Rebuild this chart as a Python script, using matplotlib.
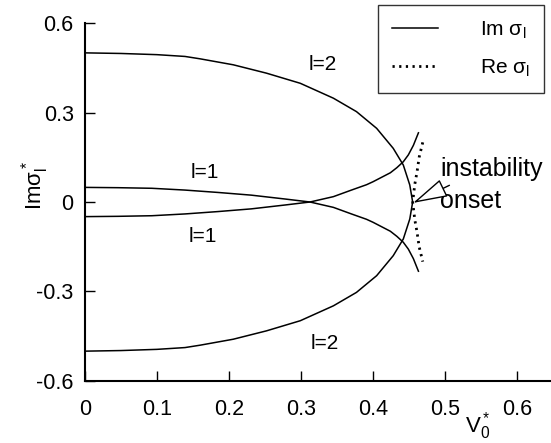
import matplotlib
matplotlib.use("Agg")
import matplotlib.pyplot as plt
import numpy as np

plt.rcParams['font.family'] = ['Liberation Sans', 'DejaVu Sans']
plt.rcParams['mathtext.fontset'] = 'custom'
plt.rcParams['mathtext.rm'] = 'Liberation Sans'
plt.rcParams['mathtext.it'] = 'Liberation Sans:italic'

# l=2 branch (upper half, lower half is the mirror)
v_l2 = [0.0, 0.05, 0.10, 0.139, 0.160, 0.206, 0.252, 0.299, 0.345, 0.377, 0.405, 0.428, 0.442, 0.451, 0.455]
im_l2 = [0.50, 0.498, 0.494, 0.488, 0.480, 0.460, 0.432, 0.398, 0.348, 0.303, 0.247, 0.180, 0.124, 0.057, 0.0]

# l=1 branch starting at +0.05 (the other one is the mirror)
v_l1 = [0.0, 0.046, 0.093, 0.139, 0.185, 0.231, 0.278, 0.3125, 0.345, 0.370, 0.391, 0.400,
        0.424, 0.433, 0.442, 0.449, 0.456, 0.463]
im_l1 = [0.049, 0.048, 0.046, 0.040, 0.032, 0.023, 0.010, 0.0, -0.018, -0.040, -0.058, -0.068,
         -0.098, -0.115, -0.135, -0.158, -0.19, -0.232]

# Re sigma near the instability onset
re_y = [0.0, 0.03, 0.06, 0.10, 0.15, 0.20]
re_v = [0.455, 0.4565, 0.458, 0.461, 0.464, 0.469]

fig = plt.figure(figsize=(5.51, 4.43), dpi=100)
ax = fig.add_axes([0.154, 0.140, 0.846, 0.808])

v_l2 = np.array(v_l2); im_l2 = np.array(im_l2)
v_l1 = np.array(v_l1); im_l1 = np.array(im_l1)
re_y = np.array(re_y); re_v = np.array(re_v)

ax.plot(v_l2, im_l2, color='black', lw=1.1, label=r'Im σ$_\mathrm{l}$')
ax.plot(v_l2, -im_l2, color='black', lw=1.1)
ax.plot(v_l1, im_l1, color='black', lw=1.1)
ax.plot(v_l1, -im_l1, color='black', lw=1.1)
ax.plot(np.concatenate([re_v[::-1], re_v[1:]]), np.concatenate([re_y[::-1], -re_y[1:]]),
        color='black', lw=2.0, linestyle=(0, (0.8, 1.6)), label=r'Re σ$_\mathrm{l}$')

ax.set_xlim(0, 0.647)
ax.set_ylim(-0.6, 0.6)
ax.set_xticks([0, 0.1, 0.2, 0.3, 0.4, 0.5, 0.6])
ax.set_xticklabels(['0', '0.1', '0.2', '0.3', '0.4', '0.5', '0.6'])
ax.set_yticks([-0.6, -0.3, 0, 0.3, 0.6])
ax.set_yticklabels(['-0.6', '-0.3', '0', '0.3', '0.6'])
ax.tick_params(direction='in', length=7, width=1, labelsize=15.5)
ax.tick_params(axis='x', pad=13)
ax.tick_params(axis='y', pad=8)
for s in ['top', 'right']:
    ax.spines[s].set_visible(False)
for s in ['left', 'bottom']:
    ax.spines[s].set_linewidth(1.5)

ax.set_ylabel(r'Imσ$_\mathrm{l}^*$', fontsize=16)
ax.yaxis.set_label_coords(-0.072, 0.547)
ax.text(0.545, -0.75, r'V$_0^*$', fontsize=16, ha='center', va='center', clip_on=False)

ax.text(0.33, 0.46, 'l=2', fontsize=15, ha='center', va='center')
ax.text(0.333, -0.473, 'l=2', fontsize=15, ha='center', va='center')
ax.text(0.167, 0.10, 'l=1', fontsize=15, ha='center', va='center')
ax.text(0.164, -0.117, 'l=1', fontsize=15, ha='center', va='center')

ax.text(0.493, 0.057, 'instability\nonset', fontsize=18, ha='left', va='center', linespacing=1.4)
ax.annotate('', xy=(0.4556, -0.003), xytext=(0.506, 0.056),
            arrowprops=dict(arrowstyle='-|>,head_length=2.2,head_width=0.6',
                            mutation_scale=10, fc='white', ec='black', lw=1.0,
                            shrinkA=0, shrinkB=0))

leg = ax.legend(loc='upper right', bbox_to_anchor=(0.988, 0.989), bbox_transform=fig.transFigure,
                fontsize=15, frameon=True, fancybox=False, edgecolor='black',
                handlelength=2.2, handletextpad=2.0, labelspacing=0.8, borderpad=0.7,
                borderaxespad=0)
leg.get_frame().set_linewidth(1.0)

fig.savefig('out.png', dpi=100)
